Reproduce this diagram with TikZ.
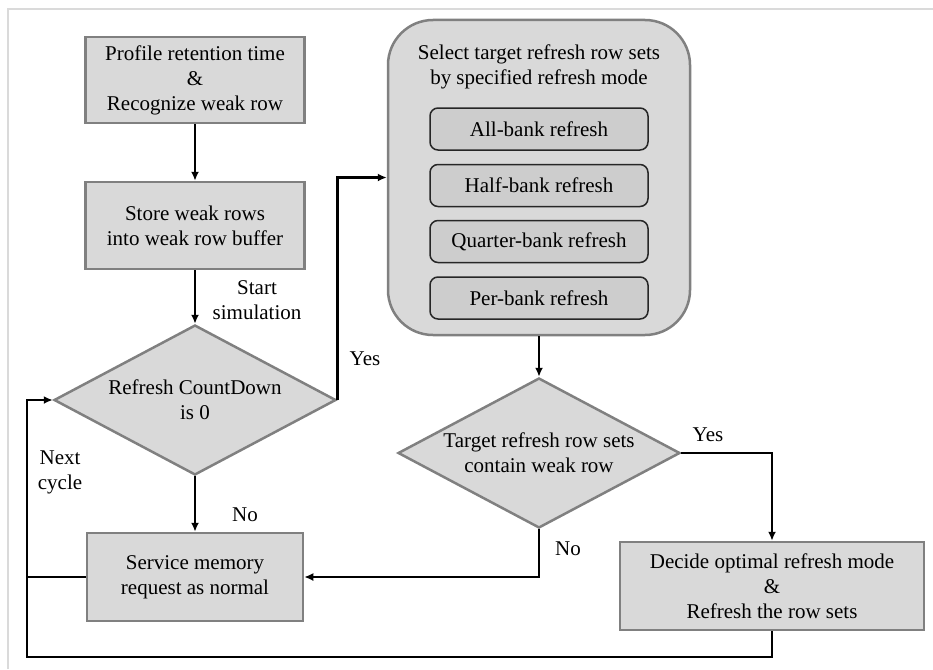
\documentclass[tikz,border=0pt]{standalone}
\usepackage{fontspec}
\setmainfont{Liberation Serif}
\newfontfamily\labelfont{Liberation Serif}
\usetikzlibrary{shapes.geometric,arrows.meta}
\definecolor{boxfill}{HTML}{D9D9D9}
\definecolor{boxline}{HTML}{808080}
\definecolor{modefill}{HTML}{CDCDCD}
\definecolor{framegray}{HTML}{DADADA}
\begin{document}
\begin{tikzpicture}[x=1pt,y=-1pt,
  font=\labelfont\fontsize{21}{25}\selectfont,
  procbox/.style={draw=boxline,fill=boxfill,line width=2.5pt,rectangle,align=center,
    inner sep=0pt,minimum width=#1},
  decision/.style={draw=boxline,fill=boxfill,line width=2.5pt,diamond,inner sep=0pt,
    minimum width=282pt,minimum height=150pt},
  modebox/.style={draw=black!85,fill=modefill,line width=1.5pt,rounded corners=8pt,
    minimum width=218pt,minimum height=42pt,inner sep=0pt},
  flow/.style={line width=2.6pt,-{Latex[length=9pt,width=8pt]}},
  plain/.style={line width=2.6pt},
  tag/.style={align=center,inner sep=0pt}]
\useasboundingbox (0,0) rectangle (933,669);
% light frame around the page
\draw[framegray,line width=2pt] (8,669) -- (8,9) -- (933,9);

% left column
\node[procbox=219pt,minimum height=86pt] (prof) at (195,80)
  {Profile retention time\\\&\\Recognize weak row};
\node[procbox=219pt,minimum height=87pt] (store) at (195,225.5)
  {Store weak rows\\into weak row buffer};
\node[decision] (cd) at (195,400) {};
\node[tag] at (cd) {Refresh CountDown\\is 0};
\node[procbox=216pt,minimum height=88pt] (svc) at (195,577)
  {Service memory\\request as normal};

% refresh-mode selection block
\node[draw=boxline,fill=boxfill,line width=2.5pt,rounded corners=45pt,
  minimum width=302pt,minimum height=315pt,inner sep=0pt] (sel) at (539,177.5) {};
\node[tag] (seltitle) at (539,67) {Select target refresh row sets\\by specified refresh mode};
\node[modebox] (allb) at (539,129) {All-bank refresh};
\node[modebox] (halfb) at (539,185.5) {Half-bank refresh};
\node[modebox] (quartb) at (539,241.5) {Quarter-bank refresh};
\node[modebox] (perb) at (539,298) {Per-bank refresh};

\node[decision] (weak) at (539,453) {};
\node[tag] at (weak) {Target refresh row sets\\contain weak row};
\node[procbox=304pt,minimum height=88pt] (dec) at (772,586)
  {Decide optimal refresh mode\\\&\\Refresh the row sets};

% connectors
\coordinate (loop) at (27,657);
\draw[flow] (prof) -- (store);
\draw[flow] (store) -- (cd);
\draw[flow] (cd.east) |- (sel.west);
\draw[flow] (cd) -- (svc);
\draw[flow] (sel) -- (weak);
\draw[flow] (weak.east) -| (dec.north);
\draw[flow] (weak.south) |- (svc.east);
\draw[plain] (svc.west) -- (svc.west -| loop);
\draw[flow] (dec.south) |- (loop) |- (cd.west);

% branch labels
\node[tag] (lstart) at (257,300) {Start\\simulation};
\node[tag] (lyes1) at (365,359) {Yes};
\node[tag] (lno1) at (245,515) {No};
\node[tag] (lnext) at (60,472) {Next\\cycle};
\node[tag] (lyes2) at (708,435) {Yes};
\node[tag] (lno2) at (568,549) {No};
\end{tikzpicture}
\end{document}
